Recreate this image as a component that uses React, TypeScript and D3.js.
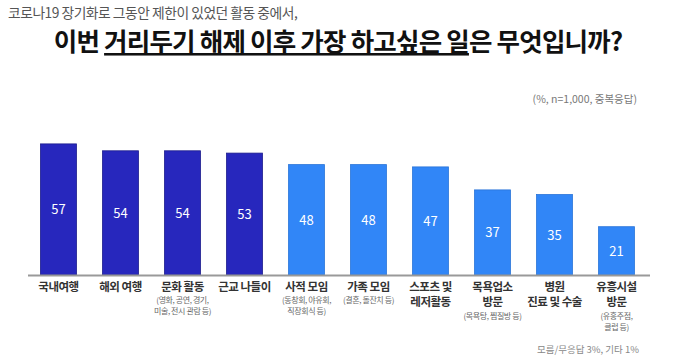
import React from 'react'
import * as d3 from 'd3'

const categories = ['국내여행', '해외 여행', '문화 활동', '근교 나들이', '사적 모임', '가족 모임', '스포츠 및\n레저활동', '목욕업소\n방문', '병원\n진료 및 수술', '유흥시설\n방문']
const values = [57, 54, 54, 53, 48, 48, 47, 37, 35, 21]
const subLabels = ['', '', '(영화, 공연, 경기,\n미술, 전시 관람 등)', '', '(동창회, 야유회,\n직장회식 등)', '(결혼, 돌잔치 등)', '', '(목욕탕, 찜질방 등)', '', '(유흥주점,\n클럽 등)']
const highlightCount = 4

const W = 680
const H = 360
const FONT = "'Noto Sans CJK KR', 'Noto Sans', sans-serif"

export default function App() {
  const x = d3.scaleBand<string>().domain(categories).range([27.5, 647.5]).paddingInner(0.42).paddingOuter(0.21)
  const y = d3.scaleLinear().domain([0, 100]).range([275, 45])
  const base = y(0)

  return (
    <svg width={W} height={H} style={{ position: 'absolute', left: 0, top: 0, background: '#fff' }} fontFamily={FONT}>
      <text x={8} y={18} fontSize={13.8} fill="#555" letterSpacing={-0.5}>코로나19 장기화로 그동안 제한이 있었던 활동 중에서,</text>
      <text x={338} y={51} fontSize={25.5} fontWeight={600} fill="#111" textAnchor="middle" letterSpacing={-0.8}>
        이번 <tspan textDecoration="underline">거리두기 해제 이후 가장 하고싶은 일</tspan>은 무엇입니까?
      </text>
      <text x={637} y={103} fontSize={10.5} fill="#777" textAnchor="end">(%, n=1,000, 중복응답)</text>

      {categories.map((c, i) => {
        const bx = x(c)!
        const by = y(values[i])
        const fill = i < highlightCount ? '#2727bd' : '#3186f7'
        const stroke = i < highlightCount ? '#1c1c8c' : '#2a74d8'
        return (
          <g key={c}>
            <rect x={bx} y={by} width={x.bandwidth()} height={base - by} fill={fill} stroke={stroke} strokeWidth={0.8} />
            <text x={bx + x.bandwidth() / 2} y={(by + base) / 2 + 5} fill="#fff" fontSize={13} textAnchor="middle">{values[i]}</text>
          </g>
        )
      })}
      <line x1={28} x2={650} y1={base + 0.5} y2={base + 0.5} stroke="#999" strokeWidth={2} />

      {categories.map((c, i) => {
        const cx = x(c)! + x.bandwidth() / 2
        const lines = c.split('\n')
        const subs = subLabels[i] ? subLabels[i].split('\n') : []
        const subStart = 303 + (lines.length - 1) * 16
        return (
          <g key={'l' + c}>
            {lines.map((l, j) => (
              <text key={j} x={cx} y={291 + j * 15} fontSize={11.5} fontWeight={600} fill="#333" textAnchor="middle" letterSpacing={-0.5}>{l}</text>
            ))}
            {subs.map((s, j) => (
              <text key={'s' + j} x={cx} y={subStart + j * 11} fontSize={8} fill="#666" textAnchor="middle" letterSpacing={-0.4}>{s}</text>
            ))}
          </g>
        )
      })}

      <text x={537} y={353} fontSize={9.5} fill="#888">모름/무응답 3%, 기타 1%</text>
    </svg>
  )
}
